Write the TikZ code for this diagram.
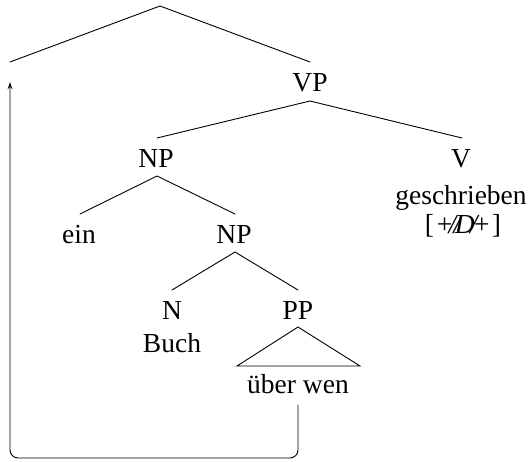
\documentclass[tikz,border=0pt]{standalone}
\usepackage{fontspec}
\setmainfont{Liberation Serif}
\usetikzlibrary{arrows.meta}
\begin{document}
\begin{tikzpicture}[x=1pt,y=-1pt,
  lbl/.style={anchor=base, inner sep=0pt, font=\fontsize{27.5}{31}\selectfont},
  edge/.style={line width=0.9pt, line cap=round}]
\useasboundingbox (0,0) rectangle (530,461);
% labels
\node[lbl] (vp) at (310,91) {VP};
\node[lbl] (np1) at (156,167) {NP};
\node[lbl] (v) at (461,167) {V};
\node[lbl] (gesch) at (461,204) {geschrieben};
\node[lbl] (feat) at (463,233) {[\kern1pt\textit{+\kern-5pt/\kern-3pt/\kern-6pt D\kern-5pt/\kern-5pt+}\kern1pt]};
\node[lbl] (ein) at (79,243) {ein};
\node[lbl] (np2) at (234,243) {NP};
\node[lbl] (n) at (172,319) {N};
\node[lbl] (buch) at (172,352) {Buch};
\node[lbl] (pp) at (298,319) {PP};
\node[lbl] (uw) at (298,393) {über wen};
% tree coordinates
\coordinate (root) at (160,6);
\coordinate (leftleaf) at (10,62);
\coordinate (vptop) at (310,62);
\coordinate (vpbot) at (310,101);
\coordinate (np1top) at (157,138);
\coordinate (vtop) at (462,138);
\coordinate (np1bot) at (157,176);
\coordinate (eintop) at (80,214);
\coordinate (np2top) at (235,214);
\coordinate (np2bot) at (235,252);
\coordinate (ntop) at (172,290);
\coordinate (pptop) at (298,290);
\coordinate (ppbot) at (298,327);
\coordinate (triL) at (237,366);
\coordinate (triR) at (360,366);
% edges
\draw[edge] (leftleaf) -- (root) -- (vptop);
\draw[edge] (np1top) -- (vpbot) -- (vtop);
\draw[edge] (eintop) -- (np1bot) -- (np2top);
\draw[edge] (ntop) -- (np2bot) -- (pptop);
\draw[edge, line join=miter] (ppbot) -- (triL) -- (triR) -- cycle;
% movement arrow
\coordinate (trfrom) at (298,405);
\coordinate (trcorner1) at (298,458);
\coordinate (trcorner2) at (10,458);
\coordinate (trto) at (10,82);
\draw[edge, rounded corners=8pt, -{Stealth[length=7pt,width=4.5pt]}] (trfrom) -- (trcorner1) -- (trcorner2) -- (trto);
\end{tikzpicture}
\end{document}
